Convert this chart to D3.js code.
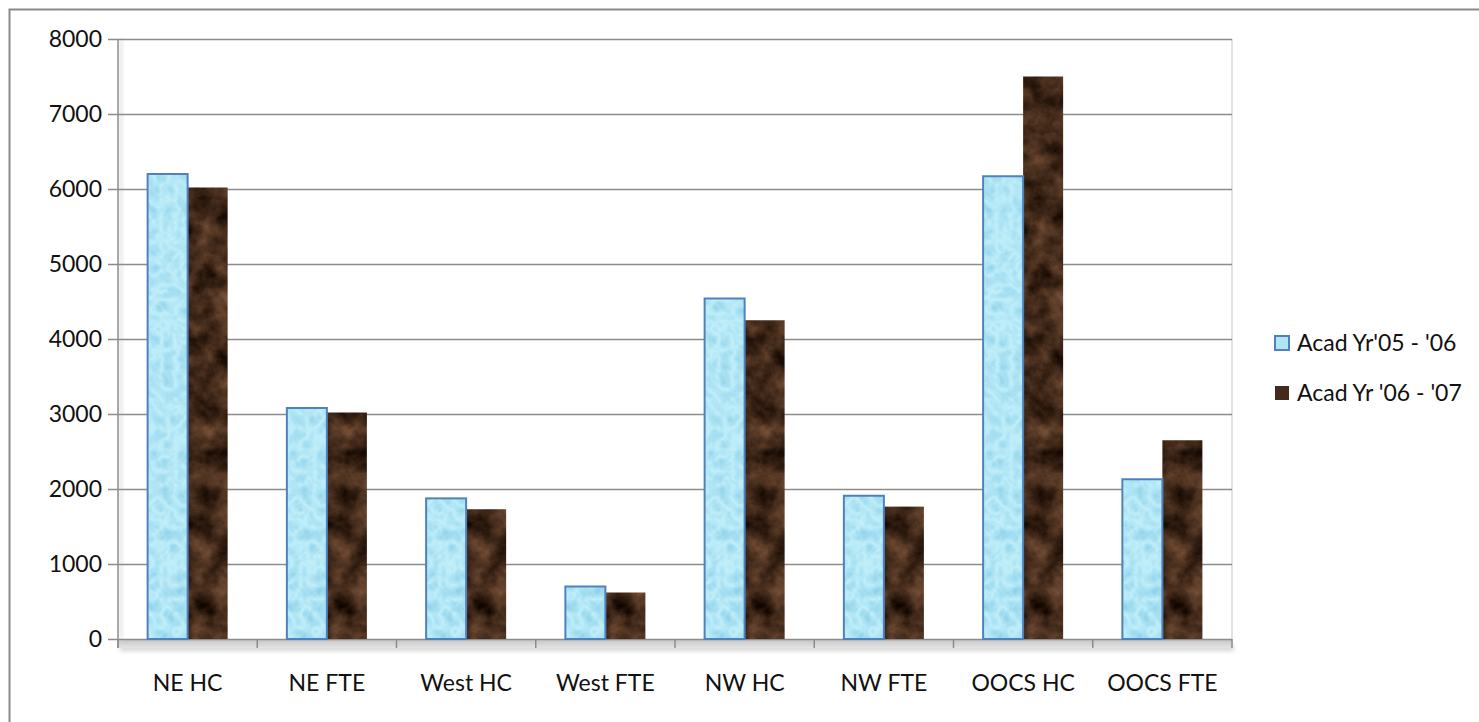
<!DOCTYPE html>
<html>
<head>
<meta charset="utf-8">
<script src="https://cdn.jsdelivr.net/npm/d3@7"></script>
<style>
  html, body { margin: 0; padding: 0; background: #fff; }
  svg { display: block; font-family: Lato, "Open Sans", sans-serif; }
</style>
</head>
<body>
<svg id="chart" width="1479" height="722"></svg>
<script>
// Enrolment by campus: head count (HC) and full-time equivalent (FTE)
const categories = ["NE HC", "NE FTE", "West HC", "West FTE", "NW HC", "NW FTE", "OOCS HC", "OOCS FTE"];
const seriesNames = ["Acad Yr'05 - '06", "Acad Yr '06 - '07"];
const values0506 = [6200, 3080, 1875, 700, 4540, 1910, 6170, 2130];
const values0607 = [6020, 3020, 1730, 620, 4250, 1765, 7500, 2650];
const yTicks = [0, 1000, 2000, 3000, 4000, 5000, 6000, 7000, 8000];

const seriesValues = [values0506, values0607];

const svg = d3.select("#chart");
const plot = { left: 118, right: 1232, top: 39, bottom: 639 };

const defs = svg.append("defs");

// Marble texture for the '06-'07 bars
const marble = defs.append("filter").attr("id", "marble")
  .attr("x", 0).attr("y", 0).attr("width", 1).attr("height", 1)
  .attr("color-interpolation-filters", "sRGB");
marble.append("feTurbulence").attr("type", "fractalNoise")
  .attr("baseFrequency", "0.045").attr("numOctaves", 5).attr("seed", 7).attr("result", "n");
marble.append("feColorMatrix").attr("in", "n").attr("type", "matrix")
  .attr("values", "0.55 0 0 0 -0.02  0.4 0 0 0 -0.04  0.3 0 0 0 -0.05  0 0 0 0 1").attr("result", "c");
marble.append("feComposite").attr("in", "c").attr("in2", "SourceAlpha").attr("operator", "in");

// Water-drop texture for the '05-'06 bars
const water = defs.append("filter").attr("id", "water")
  .attr("x", 0).attr("y", 0).attr("width", 1).attr("height", 1)
  .attr("color-interpolation-filters", "sRGB");
water.append("feTurbulence").attr("type", "turbulence")
  .attr("baseFrequency", "0.07").attr("numOctaves", 2).attr("seed", 3).attr("result", "n");
water.append("feColorMatrix").attr("in", "n").attr("type", "matrix")
  .attr("values", "-0.25 0 0 0 0.76  -0.15 0 0 0 0.94  -0.08 0 0 0 0.98  0 0 0 0 1").attr("result", "c");
water.append("feComposite").attr("in", "c").attr("in2", "SourceAlpha").attr("operator", "in");

const floorGrad = defs.append("linearGradient").attr("id", "floor")
  .attr("x1", 0).attr("y1", 0).attr("x2", 0).attr("y2", 1);
floorGrad.append("stop").attr("offset", "0%").attr("stop-color", "#c4c4c4");
floorGrad.append("stop").attr("offset", "100%").attr("stop-color", "#e4e4e4");

const shadowFilter = defs.append("filter").attr("id", "soft")
  .attr("x", "-5%").attr("y", "-50%").attr("width", "110%").attr("height", "300%");
shadowFilter.append("feGaussianBlur").attr("stdDeviation", 2);

// Outer chart frame
svg.append("rect")
  .attr("x", 9.5).attr("y", 9.5).attr("width", 1520).attr("height", 760)
  .attr("fill", "#fff").attr("stroke", "#8a8a8a").attr("stroke-width", 2);

const y = d3.scaleLinear().domain([0, 8000]).range([plot.bottom, plot.top]);
const x0 = d3.scaleBand().domain(categories).range([plot.left, plot.right])
  .paddingInner(0.4254).paddingOuter(0.2127);
const x1 = d3.scaleBand().domain([0, 1]).range([0, x0.bandwidth()]);

// Floor under the plot
svg.append("rect")
  .attr("x", plot.left + 2).attr("y", plot.bottom + 6)
  .attr("width", plot.right - plot.left).attr("height", 6)
  .attr("fill", "#d6d6d6").attr("filter", "url(#soft)");
svg.append("rect")
  .attr("x", plot.left).attr("y", plot.bottom)
  .attr("width", plot.right - plot.left).attr("height", 9)
  .attr("fill", "url(#floor)");

// Back wall right edge and left wall shading
svg.append("line")
  .attr("x1", plot.right).attr("x2", plot.right)
  .attr("y1", plot.top).attr("y2", plot.bottom + 9)
  .attr("stroke", "#d8d8d8").attr("stroke-width", 1.5);
svg.append("rect")
  .attr("x", plot.left + 1).attr("y", plot.top)
  .attr("width", 4).attr("height", plot.bottom - plot.top)
  .attr("fill", "#e8e8e8").attr("filter", "url(#soft)");

// Gridlines with outer tick stubs
const yAxis = d3.axisLeft(y).tickValues(yTicks)
  .tickSize(-(plot.right - plot.left)).tickPadding(16).tickFormat(d3.format("d"));
const gy = svg.append("g")
  .attr("transform", `translate(${plot.left},0)`)
  .call(yAxis);
gy.select(".domain").remove();
gy.selectAll(".tick line")
  .attr("x1", -10).attr("stroke", "#8c8c8c").attr("stroke-width", 1.5);
gy.selectAll(".tick text")
  .attr("font-size", 23).attr("fill", "#111").attr("font-family", "Lato, sans-serif");

// Bars
const groups = svg.append("g").selectAll("g")
  .data(categories)
  .join("g")
  .attr("transform", d => `translate(${x0(d)},0)`);

groups.selectAll("rect.brown")
  .data((d, i) => [seriesValues[1][i]])
  .join("rect")
  .attr("class", "brown")
  .attr("x", x1(1)).attr("width", x1.bandwidth())
  .attr("y", d => y(d)).attr("height", d => y(0) - y(d))
  .attr("fill", "#452a1c").attr("filter", "url(#marble)");

groups.selectAll("rect.blue")
  .data((d, i) => [seriesValues[0][i]])
  .join("rect")
  .attr("class", "blue")
  .attr("x", x1(0)).attr("width", x1.bandwidth())
  .attr("y", d => y(d)).attr("height", d => y(0) - y(d))
  .attr("fill", "#b0e6f2").attr("filter", "url(#water)");

groups.selectAll("rect.outline")
  .data((d, i) => [seriesValues[0][i]])
  .join("rect")
  .attr("class", "outline")
  .attr("x", x1(0)).attr("width", x1.bandwidth())
  .attr("y", d => y(d)).attr("height", d => y(0) - y(d))
  .attr("fill", "none").attr("stroke", "#4f81bd").attr("stroke-width", 2);

// Vertical axis line
svg.append("line")
  .attr("x1", plot.left).attr("x2", plot.left)
  .attr("y1", plot.top).attr("y2", plot.bottom + 9)
  .attr("stroke", "#8c8c8c").attr("stroke-width", 1.5);

// Category axis: ticks at band boundaries
const xb = d3.scaleLinear().domain([0, categories.length]).range([plot.left, plot.right]);
svg.append("g").selectAll("line")
  .data(d3.range(categories.length + 1))
  .join("line")
  .attr("x1", d => xb(d)).attr("x2", d => xb(d))
  .attr("y1", plot.bottom).attr("y2", plot.bottom + 9)
  .attr("stroke", "#8c8c8c").attr("stroke-width", 1.5);

svg.append("g").selectAll("text")
  .data(categories)
  .join("text")
  .attr("x", d => x0(d) + x0.bandwidth() / 2)
  .attr("y", 691)
  .attr("text-anchor", "middle")
  .attr("font-size", 23).attr("fill", "#111")
  .text(d => d);

// Legend
const legend = svg.append("g");
const legendRows = legend.selectAll("g")
  .data(seriesNames)
  .join("g")
  .attr("transform", (d, i) => `translate(1275,${343 + i * 50})`);
legendRows.append("rect")
  .attr("x", 0).attr("y", -7).attr("width", 14).attr("height", 14)
  .attr("fill", (d, i) => i === 0 ? "#b0e6f2" : "#452a1c")
  .attr("stroke", (d, i) => i === 0 ? "#4f81bd" : "none")
  .attr("stroke-width", 2);
legendRows.append("text")
  .attr("x", 22).attr("y", 8)
  .attr("font-size", 23).attr("fill", "#111")
  .text(d => d);
</script>
</body>
</html>
